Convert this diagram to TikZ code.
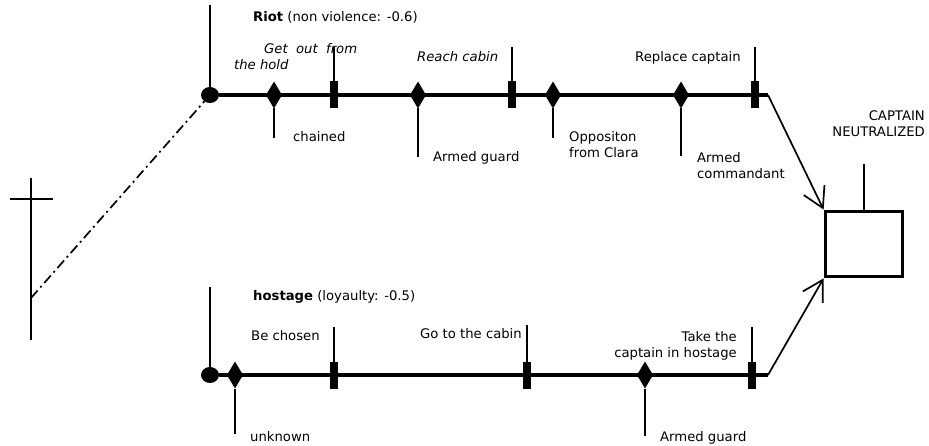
\documentclass[tikz,border=0pt]{standalone}
\usepackage{fontspec}
\setmainfont{DejaVu Sans}
\usetikzlibrary{shapes.geometric}
\usetikzlibrary{arrows.meta}
\tikzstyle{track}=[line width=3.5pt]
\tikzstyle{stem}=[line width=1.7pt]
\tikzstyle{flow}=[line width=1.7pt, -{Straight Barb[length=20pt, width=23pt, line width=1.7pt]}]
\tikzstyle{origin}=[ellipse, fill, inner sep=0, outer sep=0, minimum width=18pt, minimum height=16pt]
\tikzstyle{action}=[fill, inner sep=0, outer sep=0, minimum width=8pt, minimum height=27pt]
\tikzstyle{obstacle}=[diamond, fill, inner sep=0, outer sep=0, minimum width=16pt, minimum height=27pt]
\tikzstyle{goal}=[draw, line width=3.8pt, inner sep=0, minimum width=77pt, minimum height=65pt]
\tikzstyle{plan}=[x=1pt, y=-1pt,
                  % Default look for all the labels.
                  every node/.style={inner sep=0, font=\fontsize{13.2}{16}\selectfont}]

\begin{document}
\begin{tikzpicture}[plan]
        \useasboundingbox (0, 0) rectangle (929, 446);
        % Root of the two plans.
        \coordinate (rootTop) at (31, 178);
        \coordinate (rootBottom) at (31, 340);
        \coordinate (crossLeft) at (10, 199);
        \coordinate (crossRight) at (53, 199);
        \coordinate (root) at (31, 298);
        \draw[stem] (rootTop) -- (rootBottom);
        \draw[stem] (crossLeft) -- (crossRight);

        % Riot plan.
        \coordinate (riotEnd) at (768, 95);
        \node[origin] (riotStart) at (210, 95) {};
        \draw[track] (riotStart) -- (riotEnd);
        \draw[stem, dash pattern=on 10pt off 4pt on 2pt off 4pt] (root) -- (riotStart);
        \draw[stem] (riotStart.center) -- +(0, -90);
        \node[obstacle] (chained) at (274, 95) {};
        \draw[stem] (chained.south) -- +(0, 30);
        \node[action] (getOut) at (334, 95) {};
        \draw[stem] (getOut.north) -- +(0, -34);
        \node[obstacle] (guardTop) at (418, 95) {};
        \draw[stem] (guardTop.south) -- +(0, 49);
        \node[action] (reachCabin) at (512, 95) {};
        \draw[stem] (reachCabin.north) -- +(0, -34);
        \node[obstacle] (clara) at (553, 95) {};
        \draw[stem] (clara.south) -- +(0, 30);
        \node[obstacle] (commandant) at (681, 95) {};
        \draw[stem] (commandant.south) -- +(0, 48);
        \node[action] (replace) at (755, 95) {};
        \draw[stem] (replace.north) -- +(0, -34);

        \node[anchor=base west] (riotTitle) at (253, 22) {\textbf{Riot} (non violence: -0.6)};
        \node[anchor=base west] (getOutText) at (264, 54) {\itshape Get\ \ out\ \ from};
        \node[anchor=base west] (getOutText2) at (234, 70) {\itshape the hold};
        \node[anchor=base west] (chainedText) at (293, 142) {chained};
        \node[anchor=base west] (reachText) at (417, 62) {\itshape Reach cabin};
        \node[anchor=base west] (guardTopText) at (433, 162) {Armed guard};
        \node[anchor=base west, align=left] (claraText) at (569, 158) {Oppositon\\from Clara};
        \node[anchor=base west] (replaceText) at (635, 62) {Replace captain};
        \node[anchor=base west, align=left] (commandantText) at (697, 179) {Armed\\commandant};

        % Hostage plan.
        \coordinate (hostageEnd) at (768, 375);
        \node[origin] (hostageStart) at (210, 375) {};
        \draw[track] (hostageStart) -- (hostageEnd);
        \draw[stem] (hostageStart.center) -- +(0, -88);
        \node[obstacle] (unknown) at (235, 375) {};
        \draw[stem] (unknown.south) -- +(0, 45);
        \node[action] (chosen) at (334, 375) {};
        \draw[stem] (chosen.north) -- +(0, -34);
        \node[action] (goCabin) at (527, 375) {};
        \draw[stem] (goCabin.north) -- +(0, -36);
        \node[obstacle] (guardBottom) at (645, 375) {};
        \draw[stem] (guardBottom.south) -- +(0, 47);
        \node[action] (takeHostage) at (752, 375) {};
        \draw[stem] (takeHostage.north) -- +(0, -34);

        \node[anchor=base west] (hostageTitle) at (253, 301) {\textbf{hostage} (loyaulty: -0.5)};
        \node[anchor=base west] (chosenText) at (251, 341) {Be chosen};
        \node[anchor=base west] (goCabinText) at (420, 338) {Go to the cabin};
        \node[anchor=base east, align=right] (takeText) at (737, 357) {Take the\\captain in hostage};
        \node[anchor=base west] (unknownText) at (250, 441) {unknown};
        \node[anchor=base west] (guardBottomText) at (660, 441) {Armed guard};

        % Goal.
        \node[goal] (goal) at (864, 244) {};
        \draw[stem] (goal.north) -- +(0, -46);
        \node[anchor=base east, align=right] (goalText) at (925, 137) {CAPTAIN\\NEUTRALIZED};
        \draw[flow] (riotEnd) -- (goal.north west);
        \draw[flow] (hostageEnd) -- (goal.south west);
    \end{tikzpicture}
\end{document}
